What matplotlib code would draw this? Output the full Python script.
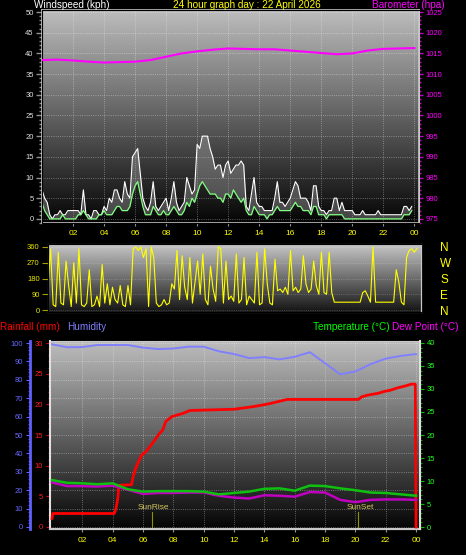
import numpy as np
import matplotlib
matplotlib.use("Agg")
import matplotlib.pyplot as plt
from matplotlib.ticker import MultipleLocator

plt.rcParams['font.family'] = ['Liberation Sans', 'DejaVu Sans']

# ---- data ----
hour_labels = ['02', '04', '06', '08', '10', '12', '14', '16', '18', '20', '22', '00']

# wind gust / average speed, kph, every 10 minutes
gust = [7, 5, 4, 1, 0, 1,   1, 2, 1, 1, 2, 2,   2, 2, 2, 1, 7, 1,   1, 0, 2, 2, 1, 1,
        3, 2, 5, 4, 7, 7,   5, 4, 9, 6, 5, 15,  16, 17, 11, 5, 3, 2,  4, 9, 3, 2, 3, 4,
        5, 2, 5, 9, 4, 2,   3, 4, 10, 8, 6, 7,  18, 17, 20, 20, 20, 17, 15, 12, 13, 13, 10, 13,
        14, 11, 12, 13, 13, 14, 13, 3, 2, 6, 10, 4, 3, 3, 2, 2, 2, 2,  5, 9, 4, 4, 3, 4,
        5, 7, 9, 8, 5, 5,   5, 4, 2, 8, 8, 3,   2, 2, 1, 2, 2, 5,   5, 2, 4, 2, 2, 2,
        2, 1, 1, 1, 2, 1,   1, 1, 1, 1, 2, 1,   1, 1, 1, 1, 1, 1,   1, 1, 3, 3, 2, 3]
avg = [4, 2, 1, 0, 0, 0,   0, 0, 1, 0, 0, 0,   0, 0, 1, 1, 2, 1,   0, 0, 0, 0, 1, 1,
       2, 1, 1, 1, 2, 3,   3, 2, 2, 2, 3, 6,   8, 9, 6, 3, 1, 1,   1, 3, 2, 1, 1, 2,
       1, 1, 2, 3, 2, 1,   1, 2, 4, 3, 5, 4,   6, 8, 9, 8, 7, 6,   6, 6, 5, 5, 4, 6,
       6, 5, 7, 6, 5, 4,   5, 2, 1, 1, 3, 2,   1, 1, 1, 0, 1, 1,   2, 3, 2, 2, 2, 2,
       2, 3, 4, 3, 3, 2,   2, 2, 1, 3, 3, 1,   1, 1, 0, 1, 1, 1,   1, 1, 1, 0, 0, 0,
       0, 0, 0, 0, 0, 0,   0, 0, 0, 0, 0, 0,   0, 0, 0, 0, 0, 0,   0, 0, 1, 1, 1, 2]

# wind direction, degrees, every 10 minutes
wdir = [140, 350, 30, 20, 330, 40,  30, 280, 140, 20, 270, 40,  350, 30, 20, 40, 230, 20,
        30, 80, 20, 260, 40, 150,   30, 130, 60, 40, 140, 30,   20, 140, 30, 350, 360, 340,
        360, 300, 350, 20, 360, 300, 40, 20, 30, 60, 30, 40,     150, 120, 340, 60, 310, 130,
        60, 300, 40, 160, 280, 90,  320, 60, 30, 250, 120, 50,   360, 350, 40, 280, 60, 80,
        50, 320, 40, 60, 300, 30,   80, 60, 40, 330, 30, 40,     350, 150, 40, 30, 290, 110,
        120, 100, 130, 90, 340, 110, 130, 100, 120, 310, 150, 100, 120, 280, 140, 90, 330, 100,
        90, 330, 100, 45, 45, 45,   45, 45, 45, 45, 45, 45,      45, 45, 100, 110, 80, 45,
        360, 45, 45, 45, 45, 45,    45, 45, 45, 230, 160, 45,    30, 300, 340, 350, 330, 350]

# hourly barometer, hPa
baro = [1013.4, 1013.5, 1013.3, 1013.0, 1012.8, 1012.9, 1013.0, 1013.4, 1014.2, 1015.0,
        1015.5, 1015.9, 1016.2, 1016.1, 1016.0, 1016.0, 1015.7, 1015.4, 1015.1, 1014.8,
        1015.0, 1015.7, 1016.1, 1016.2, 1016.3]

# hourly humidity %, temperature and dew point C
humidity = [99.3, 97.7, 97.8, 98.9, 98.9, 98.9, 97.5, 96.7, 97.0, 98.0, 98.0, 95.5, 94.0,
            91.8, 92.3, 91.1, 92.5, 95.0, 89.0, 83.0, 84.5, 88.5, 91.5, 93.0, 94.0]
temp = [10.2, 9.6, 9.5, 9.3, 9.5, 8.2, 7.7, 7.8, 7.8, 7.8, 7.7, 7.1, 7.4, 7.7, 8.3, 8.4,
        7.9, 9.0, 8.9, 8.4, 8.0, 7.5, 7.4, 7.1, 6.8]
dew = [9.7, 8.9, 8.9, 8.8, 9.0, 8.1, 7.2, 7.4, 7.4, 7.5, 7.5, 6.8, 6.4, 6.2, 6.9, 6.8,
       6.6, 7.6, 7.5, 5.9, 5.4, 5.9, 6.0, 6.0, 5.9]

# rainfall total, mm
rain_hours = [0, 0.05, 4.1, 4.2, 4.3, 4.35, 4.4, 5.25, 5.35, 5.55, 5.9, 6.2, 6.7, 7.1, 7.3,
              7.5, 7.9, 8.6, 9.1, 12.0, 13.2, 13.9, 14.5, 15.0, 15.5, 20.2, 20.4, 20.8,
              21.5, 21.9, 22.3, 22.8, 23.3, 23.7, 23.95, 24.0]
rain = [1.4, 2.2, 2.2, 2.8, 4.1, 4.9, 6.8, 6.9, 8.2, 9.8, 11.7, 12.3, 13.9, 15.3, 15.8,
        17.2, 18.0, 18.5, 19.0, 19.2, 19.6, 19.9, 20.2, 20.5, 20.8, 20.8, 21.2, 21.5,
        21.8, 22.1, 22.3, 22.7, 23.0, 23.3, 23.3, 0.0]

sunrise = 6.6
sunset = 20.2

t10 = np.arange(len(gust)) / 6.0
t1 = np.arange(len(baro))

W, H = 466, 555


def rect(x0, y0, x1, y1):
    return [x0 / W, 1 - y1 / H, (x1 - x0) / W, (y1 - y0) / H]


def gradient(ax, top, bottom):
    x0, x1 = ax.get_xlim()
    y0, y1 = ax.get_ylim()
    g = np.linspace(top, bottom, 256).reshape(-1, 1)
    ax.imshow(g, extent=[x0, x1, y0, y1], aspect='auto', cmap='gray', vmin=0, vmax=1,
              origin='upper', zorder=0, interpolation='bilinear')


fig = plt.figure(figsize=(W / 100, H / 100), dpi=100, facecolor='black')

# ---- wind speed / barometer ----
ax1 = fig.add_axes(rect(42, 10, 419, 223))
ax1.set_xlim(0, 24.3)
ax1.set_ylim(-1, 50.5)
gradient(ax1, 0.74, 0.02)
ax1.fill_between(t10, avg, gust, color='#b8b8b8', alpha=0.35, lw=0, zorder=2)
ax1.plot(t10, gust, color='white', lw=0.8, zorder=3)
ax1.plot(t10, avg, color='#80ff80', lw=0.9, zorder=4)
ax1.set_yticks(range(0, 51, 5))
ax1.yaxis.set_minor_locator(MultipleLocator(1))
ax1.set_xticks(range(2, 25, 2))
ax1.set_xticklabels(hour_labels)
ax1.tick_params(axis='y', which='both', colors='#909090', labelcolor='#e0e0e0', labelsize=5.5,
                length=4, width=1, pad=2)
ax1.tick_params(axis='y', which='minor', length=2)
ax1.tick_params(axis='x', colors='#909090', labelcolor='#ffff00', labelsize=6, length=2, pad=3)
ax1.grid(color='white', linestyle=':', linewidth=0.6, alpha=0.45)
for s in ax1.spines.values():
    s.set_color('#c8c8c8')
    s.set_linewidth(1.2)

ax1b = ax1.twinx()
ax1b.set_ylim(974.0, 1025.5)
ax1b.plot(t1, baro, color='#ff00ff', lw=1.5, zorder=5)
ax1b.set_yticks(range(975, 1026, 5))
ax1b.yaxis.set_minor_locator(MultipleLocator(1))
ax1b.tick_params(axis='y', which='both', colors='#c000c0', labelcolor='#ff00ff', labelsize=5.5,
                 length=3, width=1, pad=2)
ax1b.tick_params(axis='y', which='minor', length=1.5)
ax1b.spines['right'].set_color('#c8c8c8')

# ---- wind direction ----
ax2 = fig.add_axes(rect(48, 244, 421, 312))
ax2.set_xlim(0, 24.1)
ax2.set_ylim(-11, 377)
gradient(ax2, 0.78, 0.08)
ax2.plot(t10, wdir, color='#ffff00', lw=0.8, zorder=3)
ax2.set_yticks([0, 90, 180, 270, 360])
ax2.set_xticks(range(2, 25, 2))
ax2.tick_params(axis='x', length=0, labelbottom=False)
ax2.tick_params(axis='y', colors='#a0a000', labelcolor='#e8e800', labelsize=5.5, length=4, pad=2)
ax2.grid(axis='y', color='white', linestyle=':', linewidth=0.5, alpha=0.35)
for s in ax2.spines.values():
    s.set_color('#c8c8c8')

ax2b = ax2.twinx()
ax2b.set_ylim(ax2.get_ylim())
ax2b.set_yticks([0, 90, 180, 270, 360])
ax2b.set_yticklabels(['N', 'E', 'S', 'W', 'N'])
ax2b.tick_params(axis='y', length=0, labelcolor='#ffff00', labelsize=8.5, pad=14)
ax2b.spines['right'].set_color('#c8c8c8')

# ---- rain / humidity / temperature ----
ax3h = fig.add_axes(rect(50, 341, 420, 529))
ax3h.set_xlim(-0.13, 24.26)
ax3h.set_ylim(-1.09, 101.09)
gradient(ax3h, 0.74, 0.02)
ax3h.plot(t1, humidity, color='#8080ff', lw=1.4, zorder=3)
ax3h.set_xticks(range(2, 25, 2))
ax3h.set_xticklabels(hour_labels)
ax3h.set_yticks(range(0, 101, 10))
ax3h.yaxis.set_minor_locator(MultipleLocator(2))
ax3h.spines['left'].set_position(('axes', -20 / 370))
ax3h.spines['left'].set_color('#6060ff')
ax3h.spines['left'].set_linewidth(2)
ax3h.spines['left'].set_bounds(-1.09, 101.09)
ax3h.tick_params(axis='y', which='both', colors='#6060ff', labelcolor='#6868ff', labelsize=5.5,
                 length=3, pad=2)
ax3h.tick_params(axis='y', which='minor', length=1.5)
ax3h.tick_params(axis='x', colors='#909090', labelcolor='#ffff00', labelsize=6, length=2, pad=4)
ax3h.grid(color='white', linestyle=':', linewidth=0.6, alpha=0.45)
for k in ['top', 'right', 'bottom']:
    ax3h.spines[k].set_color('#c8c8c8')

ax3 = fig.add_axes(rect(50, 341, 420, 529), sharex=ax3h)
ax3.patch.set_visible(False)
ax3.set_ylim(-0.33, 30.33)
ax3.plot(rain_hours, rain, color='#ff0000', lw=2, zorder=4)
ax3.set_yticks(range(0, 31, 5))
ax3.yaxis.set_minor_locator(MultipleLocator(1))
ax3.tick_params(axis='y', which='both', colors='#e00000', labelcolor='#ff2020', labelsize=5.5,
                length=3, pad=2)
ax3.tick_params(axis='y', which='minor', length=1.5)
ax3.tick_params(axis='x', length=0, labelbottom=False)
ax3.spines['left'].set_color('#e0e0e0')
ax3.spines['left'].set_linewidth(1.5)
ax3.spines['bottom'].set_color('#c8c8c8')
ax3.spines['bottom'].set_linewidth(1.5)
ax3.spines['top'].set_visible(False)
ax3.spines['right'].set_visible(False)

ax3.axvline(sunrise, ymin=0, ymax=0.09, color='#909000', lw=0.8)
ax3.axvline(sunset, ymin=0, ymax=0.09, color='#909000', lw=0.8)
ax3.text(sunrise + 0.1, 0.117, 'SunRise', transform=ax3.get_xaxis_transform(), ha='center',
         va='center', color='#d8c860', fontsize=6)
ax3.text(sunset + 0.1, 0.117, 'SunSet', transform=ax3.get_xaxis_transform(), ha='center',
         va='center', color='#d8c860', fontsize=6)

ax3t = ax3.twinx()
ax3t.set_ylim(-0.43, 40.43)
ax3t.plot(t1, temp, color='#10c010', lw=1.8, zorder=5)
ax3t.plot(t1, dew, color='#c000c0', lw=1.8, zorder=4)
ax3t.set_yticks(range(0, 41, 5))
ax3t.yaxis.set_minor_locator(MultipleLocator(1))
ax3t.tick_params(axis='y', which='both', colors='#00c000', labelcolor='#20ff20', labelsize=5.5,
                 length=3, pad=2)
ax3t.tick_params(axis='y', which='minor', length=1.5)
ax3t.spines['right'].set_color('#e0e0e0')
ax3t.spines['right'].set_linewidth(1.5)
for k in ['top', 'left', 'bottom']:
    ax3t.spines[k].set_visible(False)

# ---- titles ----
def label(x, y, s, c):
    fig.text(x / W, 1 - y / H, s, color=c, fontsize=7.2, va='center', ha='left')


label(34, 5, 'Windspeed (kph)', 'white')
label(173, 5, '24 hour graph day : 22 April 2026', '#ffff00')
label(372, 5, 'Barometer (hpa)', '#ff00ff')
label(0, 327, 'Rainfall (mm)', '#ff0000')
label(67, 327, 'Humidity', '#8080ff')
label(313, 327, 'Temperature (\u00b0C)', '#00ff00')
label(392, 327, 'Dew Point (\u00b0C)', '#ff00ff')

fig.savefig('out.png', dpi=100, facecolor='black')
